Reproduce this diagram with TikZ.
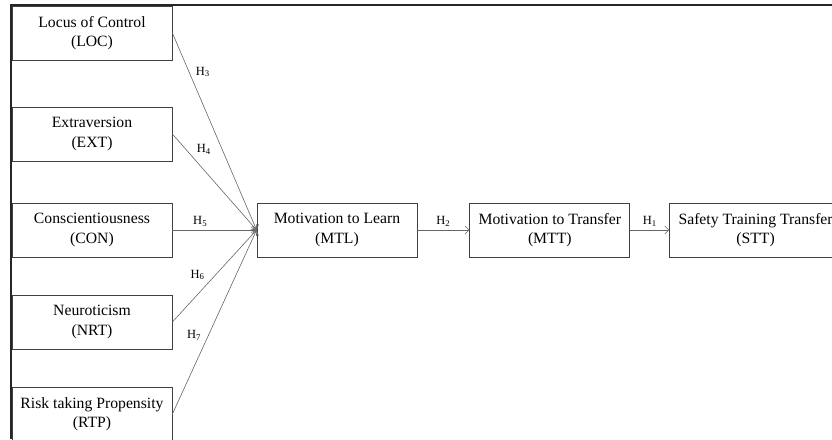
\documentclass[tikz,border=0pt]{standalone}
\usepackage{fontspec}
\setmainfont{Liberation Serif}
\usetikzlibrary{positioning,arrows.meta}

\tikzset{
  construct/.style={draw=black!75, line width=0.8pt, align=center, inner sep=2pt,
    minimum width=160pt, minimum height=54pt, font=\fontsize{15.7}{19.5}\selectfont},
  hyp/.style={font=\fontsize{12.5}{14}\selectfont, inner sep=3pt},
  link/.style={draw=black!60, line width=0.6pt},
  frameline/.style={draw=black!85, line width=1.3pt}
}

\begin{document}
\begin{tikzpicture}[x=1pt,y=-1pt,>={Straight Barb[length=4pt,width=8pt]},auto,node distance=52pt]
  \useasboundingbox (0,0) rectangle (832,439);
  % outer frame (cropped)
  \coordinate (fbot) at (11,439);
  \coordinate (fcorner) at (11,5);
  \coordinate (fright) at (832,5);
  \draw[frameline] (fbot) -- (fcorner) -- (fright);

  % personality traits
  \node[construct] (LOC) at (92,33)  {Locus of Control\\(LOC)};
  \node[construct] (EXT) at (92,134) {Extraversion\\(EXT)};
  \node[construct] (CON) at (92,230) {Conscientiousness\\(CON)};
  \node[construct] (NRT) at (92,322) {Neuroticism\\(NRT)};
  \node[construct] (RTP) at (92,414) {Risk taking Propensity\\(RTP)};

  % motivation chain
  \node[construct] (MTL) at (337,230)   {Motivation to Learn\\(MTL)};
  \node[construct] (MTT) [right=of MTL] {Motivation to Transfer\\(MTT)};
  \node[construct, minimum width=172pt] (STT) [right=39pt of MTT] {Safety Training Transfer\\(STT)};

  \path[->, every edge/.style={link}]
    (LOC.east) edge node[hyp, pos=0.24] {H\textsubscript{3}} (MTL.west)
    (EXT.east) edge node[hyp, pos=0.25] {H\textsubscript{4}} (MTL.west)
    (CON.east) edge node[hyp, pos=0.33] {H\textsubscript{5}} (MTL.west)
    (NRT.east) edge node[hyp, pos=0.42] {H\textsubscript{6}} (MTL.west)
    (RTP.east) edge node[hyp, pos=0.38] {H\textsubscript{7}} (MTL.west)
    (MTL) edge node[hyp] {H\textsubscript{2}} (MTT)
    (MTT) edge node[hyp] {H\textsubscript{1}} (STT)
  ;
\end{tikzpicture}
\end{document}
